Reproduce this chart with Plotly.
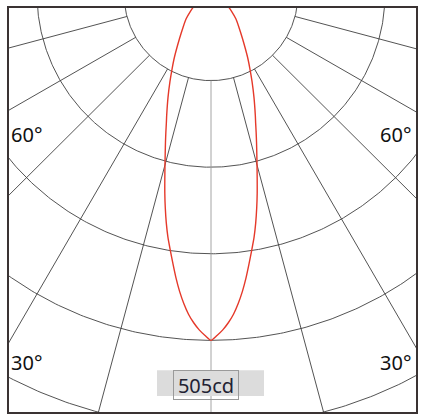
import numpy as np
import plotly.graph_objects as go

# ---- data ----
angles_deg = [0, 1, 2, 3, 4, 5, 6, 7, 8, 9, 10, 11, 12, 13, 14, 15, 16, 17, 18, 19, 20,
              22.5, 25, 27.5, 30, 35, 40, 45, 50, 55, 60, 70, 80, 90]
intensity_cd = [505, 498, 490, 480, 468, 453, 436, 417, 397, 378, 360, 340, 319, 298, 277,
                258, 241, 226, 212, 199, 188, 163, 141, 122, 106, 80, 63, 51, 39, 29, 21,
                10, 4, 0]
peak_label = "505cd"
ring_step = 505 / 4
ring_values = [ring_step * k for k in range(1, 6)]
spoke_angles = list(range(-90, 91, 15))
angle_labels = ["60°", "30°"]

# ---- geometry (pixel layout of the window) ----
W, H = 430, 420
L, R, T, B = 9, 14, 6, 8
px_per_cd = 348 / 505.0
cx_px, cy_px = 211, -8          # pole position in window pixels
cd = 1 / px_per_cd
x_range = [(L - cx_px) * cd, (W - R - cx_px) * cd]
y_range = [-(H - B - cy_px) * cd, -(T - cy_px) * cd]

def to_xy(theta_deg, r):
    t = np.radians(np.asarray(theta_deg, dtype=float))
    r = np.asarray(r, dtype=float)
    return r * np.sin(t), -r * np.cos(t)

fig = go.Figure()
grid_col = "#404040"

# rings
tt = np.linspace(-180, 180, 721)
for rv in ring_values:
    x, y = to_xy(tt, np.full_like(tt, rv))
    fig.add_trace(go.Scatter(x=x, y=y, mode="lines", hoverinfo="skip",
                             line=dict(color=grid_col, width=0.9), showlegend=False))
# spokes
for a in spoke_angles:
    x, y = to_xy([a, a], [ring_values[0], ring_values[-1] * 2])
    fig.add_trace(go.Scatter(x=x, y=y, mode="lines", hoverinfo="skip",
                             line=dict(color="#9a9a9a" if a == 0 else grid_col,
                                       width=0.9), showlegend=False))

# intensity curve (symmetric)
th = [-a for a in angles_deg[::-1]] + angles_deg[1:]
iv = intensity_cd[::-1] + intensity_cd[1:]
x, y = to_xy(th, iv)
fig.add_trace(go.Scatter(x=x, y=y, mode="lines",
                         line=dict(color="#e5392a", width=1.4, shape="spline", smoothing=0.6),
                         showlegend=False, hoverinfo="skip"))

pw = W - L - R
ph = H - T - B
def px(xp): return (xp - L) / pw
def py(yp): return (H - B - yp) / ph

lab_font = dict(family="Noto Sans, Lato, sans-serif", size=20, color="#111111")
for txt, ypix in [(angle_labels[0], 133), (angle_labels[1], 362)]:
    fig.add_annotation(text=txt, xref="paper", yref="paper", x=px(8.5), y=py(ypix),
                       xanchor="left", yanchor="middle", showarrow=False, font=lab_font)
    fig.add_annotation(text=txt, xref="paper", yref="paper", x=px(413), y=py(ypix),
                       xanchor="right", yanchor="middle", showarrow=False, font=lab_font)

fig.add_shape(type="rect", xref="paper", yref="paper", x0=px(157), x1=px(264),
              y0=py(396), y1=py(370), fillcolor="#dcdcdc", line=dict(width=0), layer="above")
fig.add_annotation(text=peak_label, xref="paper", yref="paper", x=px(205.5), y=py(384.5),
                   xanchor="center", yanchor="middle", showarrow=False,
                   font=dict(family="Noto Sans, Lato, sans-serif", size=20, color="#222233"),
                   bgcolor="rgba(0,0,0,0)", bordercolor="#9a9a9a", borderwidth=1, borderpad=2,
                   width=60, height=24)

axis_common = dict(showgrid=False, zeroline=False, showticklabels=False, ticks="",
                   showline=True, mirror=True, linecolor="#3a3333", linewidth=1.8, fixedrange=True)
fig.update_xaxes(range=x_range, **axis_common)
fig.update_yaxes(range=y_range, **axis_common)
fig.update_layout(width=W, height=H, margin=dict(l=L, r=R, t=T, b=B, pad=0),
                  plot_bgcolor="white", paper_bgcolor="white", showlegend=False)

fig.write_html("out.html", config={"displayModeBar": False},
               post_script="document.body.style.margin='0';document.body.style.overflow='hidden';")
